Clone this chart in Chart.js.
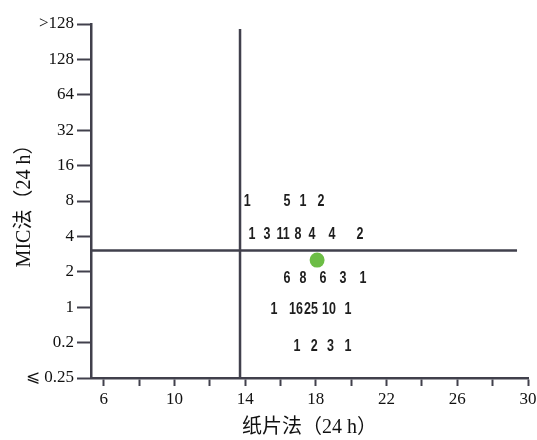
<!DOCTYPE html>
<html>
<head>
<meta charset="utf-8">
<script src="https://cdn.jsdelivr.net/npm/chart.js@4"></script>
<style>
  html, body { margin: 0; padding: 0; background: #fff; }
  #wrap { width: 537px; height: 440px; }
</style>
</head>
<body>
<div id="wrap"><canvas id="c"></canvas></div>
<script>
// MIC categories (y) and disc diameter ticks (x)
const yLabels = ['⩽ 0.25', '0.2', '1', '2', '4', '8', '16', '32', '64', '128', '>128'];
const xTicks = [6, 8, 10, 12, 14, 16, 18, 20, 22, 24, 26, 28, 30];
const xLabelTicks = [6, 10, 14, 18, 22, 26, 30];

// isolate counts written on the plot
const countLabel = ['1', '5', '1', '2',
  '1', '3', '11', '8', '4', '4', '2',
  '6', '8', '6', '3', '1',
  '1', '16', '25', '10', '1',
  '1', '2', '3', '1'];
const countX = [14.11, 16.37, 17.27, 18.29,
  14.39, 15.24, 16.14, 16.99, 17.78, 18.91, 20.5,
  16.37, 17.27, 18.4, 19.54, 20.67,
  15.63, 16.88, 17.72, 18.74, 19.82,
  16.93, 17.9, 18.82, 19.82];
const countY = [4.97, 4.97, 4.97, 4.97,
  4.04, 4.04, 4.04, 4.04, 4.04, 4.04, 4.04,
  2.82, 2.82, 2.82, 2.82, 2.82,
  1.92, 1.92, 1.92, 1.92, 1.92,
  0.88, 0.88, 0.88, 0.88];

// breakpoint lines and QC point
const cutX = 13.71;
const cutY = 3.6;
const qcPoint = { x: 18.07, y: 3.33 };

const axisColor = '#41404c';

// counts are drawn slightly condensed, like the narrow bold digits in the figure
const countText = {
  id: 'countText',
  afterDatasetsDraw(chart) {
    const meta = chart.getDatasetMeta(0);
    const ctx = chart.ctx;
    ctx.save();
    ctx.font = 'bold 16px "Liberation Sans", Arial, sans-serif';
    ctx.fillStyle = '#1e1e1e';
    ctx.textAlign = 'center';
    ctx.textBaseline = 'middle';
    meta.data.forEach((pt, i) => {
      ctx.save();
      ctx.translate(pt.x, pt.y);
      ctx.scale(0.78, 1);
      ctx.fillText(countLabel[i], 0, 0);
      ctx.restore();
    });
    ctx.restore();
  }
};

new Chart(document.getElementById('c'), {
  type: 'scatter',
  data: {
    datasets: [
      {
        data: countX.map((x, i) => ({ x, y: countY[i] })),
        pointRadius: 0,
        pointHoverRadius: 0
      },
      {
        type: 'line',
        data: [{ x: cutX, y: 0 }, { x: cutX, y: 9.86 }],
        borderColor: axisColor,
        borderWidth: 2.5,
        pointRadius: 0
      },
      {
        type: 'line',
        data: [{ x: 5.28, y: cutY }, { x: 29.38, y: cutY }],
        borderColor: axisColor,
        borderWidth: 2.5,
        pointRadius: 0
      },
      {
        data: [qcPoint],
        pointRadius: 7.5,
        backgroundColor: '#6cbd45',
        borderWidth: 0
      }
    ]
  },
  options: {
    responsive: true,
    maintainAspectRatio: false,
    animation: false,
    layout: { padding: { left: 0, top: 24, right: 9, bottom: 0 } },
    plugins: { legend: { display: false }, tooltip: { enabled: false } },
    scales: {
      x: {
        type: 'linear',
        min: 5.28,
        max: 30,
        afterBuildTicks: s => { s.ticks = xTicks.map(v => ({ value: v })); },
        afterFit: s => { s.height = 62; s.paddingRight = 0; s.paddingLeft = 0; },
        border: { display: true, color: axisColor, width: 2.5 },
        grid: { drawOnChartArea: false, drawTicks: true, tickLength: 8, color: axisColor, tickWidth: 2 },
        ticks: {
          autoSkip: false,
          maxRotation: 0,
          padding: 3,
          color: '#111',
          font: { family: '"Liberation Serif", "Times New Roman", serif', size: 17 },
          callback: v => xLabelTicks.includes(v) ? String(v) : ''
        },
        title: {
          display: true,
          text: '纸片法（24 h）',
          color: '#111',
          padding: { top: 0, bottom: 0 },
          font: { family: '"Liberation Serif", "Noto Sans CJK SC", serif', size: 20 }
        }
      },
      y: {
        type: 'linear',
        min: 0,
        max: 10,
        afterBuildTicks: s => { s.ticks = yLabels.map((_, i) => ({ value: i })); },
        afterFit: s => { s.width = 91; },
        border: { display: true, color: axisColor, width: 2.5 },
        grid: { drawOnChartArea: false, drawTicks: true, tickLength: 14, color: axisColor, tickWidth: 2 },
        ticks: {
          autoSkip: false,
          padding: 3,
          color: '#111',
          font: { family: '"Liberation Serif", "Times New Roman", serif', size: 17 },
          callback: v => yLabels[v]
        },
        title: {
          display: true,
          text: 'MIC法（24 h）',
          color: '#111',
          padding: { top: 13, bottom: 0 },
          font: { family: '"Liberation Serif", "Noto Sans CJK SC", serif', size: 20 }
        }
      }
    }
  },
  plugins: [countText]
});
</script>
</body>
</html>
